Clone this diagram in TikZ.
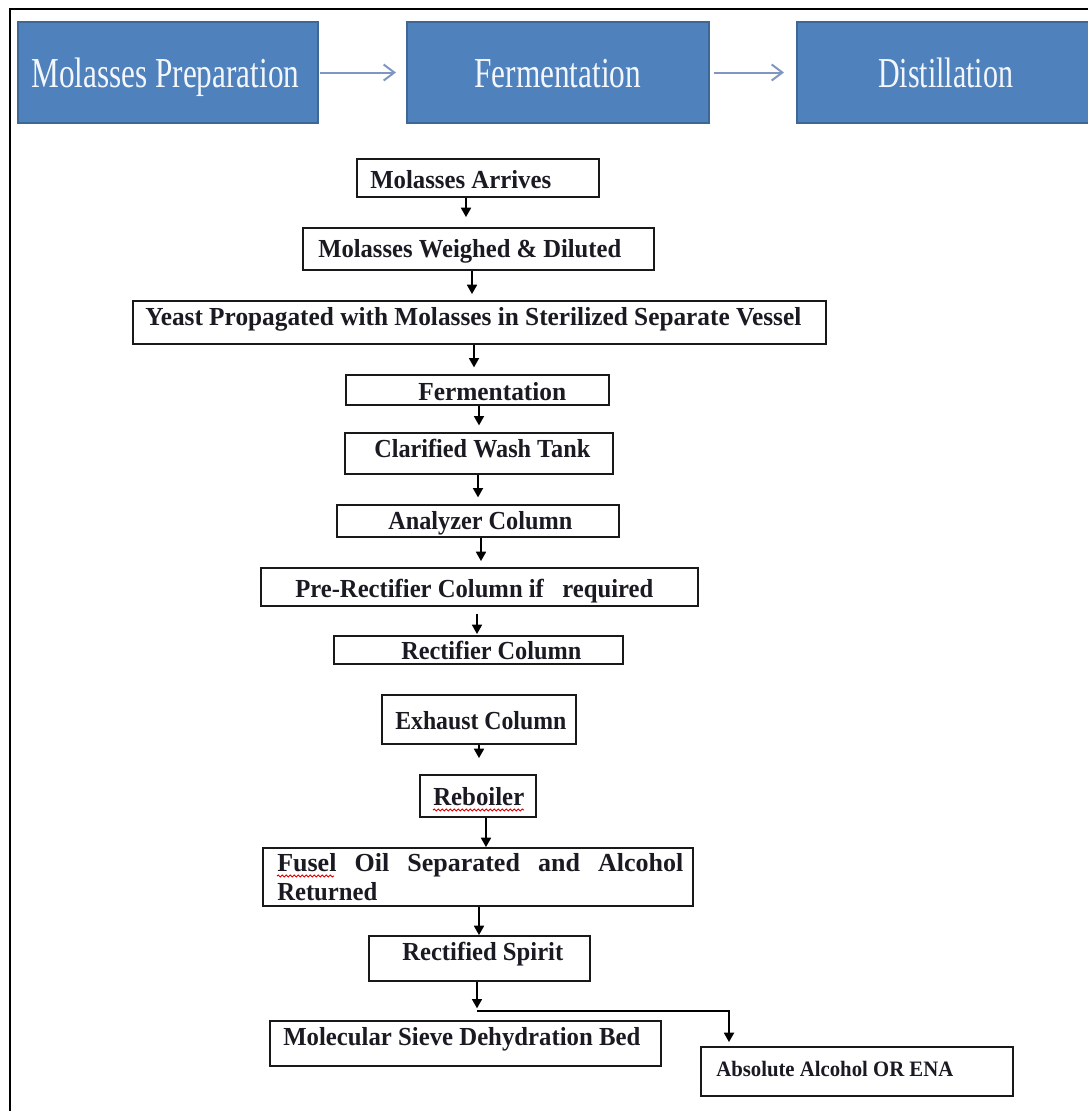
\documentclass[tikz,border=0pt]{standalone}
\usepackage{fontspec}
\setmainfont{Liberation Serif}
\usepackage{graphicx}
\usetikzlibrary{arrows.meta,calc,fit,decorations.pathmorphing}
\definecolor{hblue}{HTML}{4F81BD}
\definecolor{hedge}{HTML}{3D6896}
\definecolor{harrow}{HTML}{7F96C2}
\definecolor{htext}{HTML}{F3F7FC}
\definecolor{ftext}{HTML}{1A1A22}
\newcommand\fitw[2]{\resizebox{#1}{\height}{#2}}
\newcommand\hfnt{\fontsize{32pt}{36pt}\selectfont}
\newcommand\ffnt{\fontsize{19.5pt}{23pt}\selectfont\bfseries}
\newcommand\afnt{\fontsize{16.5pt}{19pt}\selectfont\bfseries}
\begin{document}
\begin{tikzpicture}[x=0.75pt,y=-0.75pt,
  hbox/.style={draw=hedge, line width=1.5pt, fill=hblue, inner sep=0pt},
  fbox/.style={draw=black!90, line width=1.4pt, fill=white, inner sep=0pt},
  htxt/.style={anchor=base west, inner sep=0pt, text=htext, font=\hfnt},
  ftxt/.style={anchor=base west, inner sep=0pt, text=ftext, font=\ffnt},
  harr/.style={draw=harrow, line width=1.5pt, -{Straight Barb[length=8pt,width=12pt]}},
  farr/.style={draw=black, line width=1.3pt, -{Triangle[length=7pt,width=7.5pt]}},
  spell/.style={draw=red!85!black, line width=0.7pt, decorate, decoration={snake, amplitude=0.7pt, segment length=3pt}}
]
\useasboundingbox (0,0) rectangle (1088,1111);
\fill[white] (0,0) rectangle (1088,1111);
% outer frame
\draw[line width=2.2pt] (10,1111) -- (10,9) -- (1088,9);

% header boxes
\node[hbox, fit={(18,22) (318,123)}] (hp) {};
\node[hbox, fit={(407,22) (709,123)}] (hf) {};
\node[hbox, fit={(797,22) (1099,123)}] (hd) {};
\node[htxt] (thp) at (31,87) {\fitw{201pt}{Molasses Preparation}};
\node[htxt] (thf) at (474,87) {\fitw{125.25pt}{Fermentation}};
\node[htxt] (thd) at (878,87) {\fitw{101.25pt}{Distillation}};
\draw[harr, shorten <=1pt, shorten >=7.5pt] (hp.east) -- (hf.west);
\draw[harr, shorten <=3pt, shorten >=9pt] (hf.east) -- (hd.west);

% flow boxes
\node[fbox, fit={(357,159) (599,197)}] (b1) {};
\node[fbox, fit={(303,228) (654,270)}] (b2) {};
\node[fbox, fit={(133,301) (826,344)}] (b3) {};
\node[fbox, fit={(346,375) (609,405)}] (b4) {};
\node[fbox, fit={(345,433) (613,474)}] (b5) {};
\node[fbox, fit={(337,505) (619,537)}] (b6) {};
\node[fbox, fit={(261,568) (698,606)}] (b7) {};
\node[fbox, fit={(334,636) (623,664)}] (b8) {};
\node[fbox, fit={(382,695) (576,744)}] (b9) {};
\node[fbox, fit={(420,775) (536,817)}] (b10) {};
\node[fbox, fit={(263,848) (693,906)}] (b11) {};
\node[fbox, fit={(369,936) (590,981)}] (b12) {};
\node[fbox, fit={(270,1021) (661,1066)}] (b13) {};
\node[fbox, fit={(701,1047) (1013,1096)}] (b14) {};

% texts
\node[ftxt] (t1) at (370,188) {\fitw{135.75pt}{Molasses Arrives}};
\node[ftxt] (t2) at (318,257) {\fitw{227.25pt}{Molasses Weighed \& Diluted}};
\node[ftxt] (t3) at (145,325) {\fitw{492pt}{Yeast Propagated with Molasses in Sterilized Separate Vessel}};
\node[ftxt] (t4) at (418,400) {\fitw{111pt}{Fermentation}};
\node[ftxt] (t5) at (374,457) {\fitw{162pt}{Clarified Wash Tank}};
\node[ftxt] (t6) at (388,529) {\fitw{138pt}{Analyzer Column}};
\node[ftxt] (t7) at (295,597) {\fitw{268.5pt}{Pre-Rectifier Column if\ \ \ required}};
\node[ftxt] (t8) at (401,659) {\fitw{135pt}{Rectifier Column}};
\node[ftxt] (t9) at (395,729) {\fitw{128.25pt}{Exhaust Column}};
\node[ftxt] (t10) at (433,805) {\fitw{68.25pt}{Reboiler}};
\node[ftxt] (t11a) at (277,871) {\hbox to 304.5pt{Fusel\hfill Oil\hfill Separated\hfill and\hfill Alcohol}};
\node[ftxt] (t11b) at (277,900) {\fitw{75pt}{Returned}};
\node[ftxt] (t12) at (402,960) {\fitw{120.75pt}{Rectified Spirit}};
\node[ftxt] (t13) at (283,1045) {\fitw{267.75pt}{Molecular Sieve Dehydration Bed}};
\node[ftxt, font=\afnt] (t14) at (716,1076) {\fitw{177.75pt}{Absolute Alcohol OR ENA}};

% spell-check underlines
\draw[spell] (433,810) -- (524,810);
\draw[spell] (277,876) -- (334,876);

% connector x positions
\coordinate (x1) at (466,0);
\coordinate (x2) at (472,0);
\coordinate (x3) at (474,0);
\coordinate (x4) at (479,0);
\coordinate (x5) at (478,0);
\coordinate (x6) at (481,0);
\coordinate (x7) at (477,0);
\coordinate (x9) at (479,0);
\coordinate (x10) at (486,0);
\coordinate (x11) at (479,0);
\coordinate (ab) at (729,0);
\coordinate (split) at (477,1011);

\draw[farr, shorten >=7.5pt] (b1.south -| x1) -- (b2.north -| x1);
\draw[farr, shorten >=4.5pt] (b2.south -| x2) -- (b3.north -| x2);
\draw[farr, shorten >=5pt] (b3.south -| x3) -- (b4.north -| x3);
\draw[farr, shorten >=5pt] (b4.south -| x4) -- (b5.north -| x4);
\draw[farr, shorten >=5pt] (b5.south -| x5) -- (b6.north -| x5);
\draw[farr, shorten >=4.5pt] (b6.south -| x6) -- (b7.north -| x6);
\draw[farr, shorten <=5pt, shorten >=0.8pt] (b7.south -| x7) -- (b8.north -| x7);
\draw[farr, shorten >=12pt] (b9.south -| x9) -- (b10.north -| x9);
\draw[farr] (b10.south -| x10) -- (b11.north -| x10);
\draw[farr] (b11.south -| x11) -- (b12.north -| x11);
\draw[farr, shorten >=2pt] (b12.south -| split) -- (split);
\draw[farr, shorten >=3pt] (split) -| (b14.north -| ab);
\end{tikzpicture}
\end{document}
